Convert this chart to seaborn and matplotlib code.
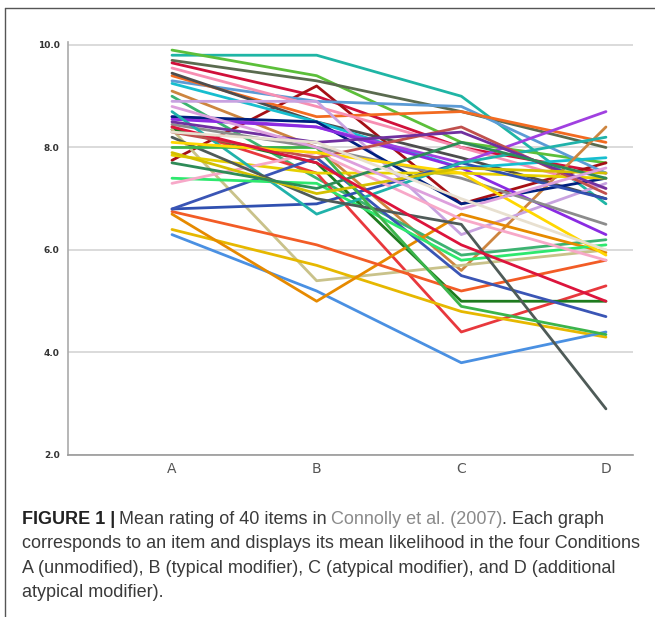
import pandas as pd
import matplotlib
matplotlib.use("Agg")
import matplotlib.pyplot as plt
import seaborn as sns
from matplotlib.lines import Line2D


# Conditions et valeurs (40 items)
conditions = ["A", "B", "C", "D"]

items = [
    [9.8, 9.8, 9.0, 6.9],
    [9.9, 9.4, 8.1, 7.7],
    [9.7, 9.3, 8.7, 8.0],
    [9.65, 9.0, 8.0, 7.5],
    [7.75, 9.2, 6.9, 7.7],
    [9.3, 8.9, 8.8, 7.5],
    [9.4, 8.6, 8.7, 8.1],
    [9.55, 8.8, 8.0, 7.2],
    [9.45, 8.5, 7.8, 7.0],
    [9.25, 8.5, 7.6, 7.8],
    [9.1, 8.0, 5.6, 8.4],
    [9.0, 7.4, 5.9, 6.2],
    [8.9, 8.9, 6.3, 7.3],
    [8.6, 8.4, 7.7, 8.7],
    [8.6, 8.5, 6.9, 7.4],
    [8.55, 8.4, 7.6, 6.3],
    [8.45, 8.0, 7.4, 6.5],
    [8.4, 7.5, 4.4, 5.3],
    [8.35, 7.7, 5.0, 5.0],
    [8.35, 5.4, 5.7, 6.0],
    [7.85, 7.5, 7.5, 7.4],
    [6.4, 5.7, 4.8, 4.3],
    [6.3, 5.2, 3.8, 4.4],
    [6.7, 5.0, 6.7, 5.95],
    [6.75, 6.1, 5.2, 5.8],
    [6.8, 6.9, 7.7, 7.0],
    [6.8, 7.8, 5.5, 4.7],
    [7.4, 7.3, 5.8, 6.1],
    [7.3, 7.9, 6.6, 5.8],
    [8.7, 6.7, 7.7, 8.2],
    [8.2, 7.0, 6.5, 2.9],
    [8.0, 8.0, 4.9, 4.35],
    [8.3, 7.8, 8.4, 7.1],
    [8.5, 8.1, 8.3, 7.2],
    [8.1, 7.9, 7.5, 5.9],
    [7.9, 7.1, 7.6, 7.5],
    [7.7, 7.2, 8.1, 7.4],
    [8.8, 8.0, 6.8, 7.6],
    [8.4, 7.7, 6.1, 5.0],
    [8.3, 8.1, 7.0, 6.0],
]

item_colors = [
    "#1fb5a5", "#5cbf3a", "#5a6b4f", "#d0103a", "#a50f15",
    "#5b9bd5", "#f26b21", "#f78fb3", "#4d4d4d", "#17becf",
    "#cd853f", "#3cb371", "#c8a2e0", "#a040e0", "#00207f",
    "#8a2be2", "#8c8c8c", "#e8383d", "#1e7b1e", "#c9c28a",
    "#e6d000", "#e6b800", "#4a90e2", "#e68a00", "#f25c26",
    "#3050b0", "#3a55b5", "#2ee86e", "#f7a8c8", "#20b2aa",
    "#4f5b58", "#3cb44b", "#c0504d", "#7030a0", "#ffd700",
    "#d4c000", "#2e8b57", "#dda0dd", "#dc143c", "#e8e0d0",
]

y_ticks = [2.0, 4.0, 6.0, 8.0, 10.0]

caption_lines = [
    "corresponds to an item and displays its mean likelihood in the four Conditions",
    "A (unmodified), B (typical modifier), C (atypical modifier), and D (additional",
    "atypical modifier).",
]

rows = []
for i, vals in enumerate(items):
    for cond, v in zip(conditions, vals):
        rows.append({"item": i, "condition": cond, "rating": v})
df = pd.DataFrame(rows)

sns.set_style("white")
plt.rcParams["font.family"] = ["DejaVu Sans"]

fig = plt.figure(figsize=(6.55, 6.17), dpi=100)
ax = fig.add_axes([68 / 655, 1 - 455 / 617, (633 - 68) / 655, (455 - 42.4) / 617])

sns.lineplot(
    data=df, x="condition", y="rating", hue="item",
    palette=item_colors, legend=False, sort=False,
    linewidth=2.0, ax=ax,
)

ax.set_xlim(-0.719, 3.187)
ax.set_ylim(2.0, 10.05)
ax.set_yticks(y_ticks)
ax.set_yticklabels([f"{t:.1f}" for t in y_ticks], fontsize=6.5,
                   color="#333333", fontweight="bold")
ax.set_xticks(range(len(conditions)))
ax.set_xticklabels(conditions, fontsize=10, color="#555555")
ax.tick_params(length=0, pad=6)
ax.tick_params(axis="x", pad=5)
ax.set_xlabel("")
ax.set_ylabel("")
ax.grid(axis="y", color="#d4d4d4", linewidth=1.2)
ax.set_axisbelow(True)
for side in ["top", "right"]:
    ax.spines[side].set_visible(False)
ax.spines["left"].set_color("#aaaaaa")
ax.spines["bottom"].set_color("#999999")
ax.spines["left"].set_linewidth(1.2)
ax.spines["bottom"].set_linewidth(1.2)

# Cadre de la figure (haut et gauche)
fig.add_artist(Line2D([5 / 655, 5 / 655], [0, 1 - 8 / 617],
                      transform=fig.transFigure, color="#555555", linewidth=1))
fig.add_artist(Line2D([5 / 655, 1], [1 - 8 / 617, 1 - 8 / 617],
                      transform=fig.transFigure, color="#555555", linewidth=1))

# Légende de la figure
cap_font = ["Liberation Sans", "DejaVu Sans"]
cap_size = 13
x0 = 22 / 655
y_first = 1 - 524 / 617
fig.canvas.draw()
renderer = fig.canvas.get_renderer()

t1 = fig.text(x0, y_first, "FIGURE 1 |", fontsize=cap_size, fontweight="bold",
              family=cap_font, color="#222222", va="baseline")
bb = t1.get_window_extent(renderer)
x1 = bb.x1 / fig.bbox.width + 4 / 655
t2 = fig.text(x1, y_first, "Mean rating of 40 items in", fontsize=cap_size,
              family=cap_font, color="#3a3a3a", va="baseline")
bb = t2.get_window_extent(renderer)
x2 = bb.x1 / fig.bbox.width + 4 / 655
t3 = fig.text(x2, y_first, "Connolly et al. (2007)", fontsize=cap_size,
              family=cap_font, color="#8a8a8a", va="baseline")
bb = t3.get_window_extent(renderer)
x3 = bb.x1 / fig.bbox.width
fig.text(x3, y_first, ". Each graph", fontsize=cap_size,
         family=cap_font, color="#3a3a3a", va="baseline")

for k, line in enumerate(caption_lines):
    fig.text(x0, 1 - (548.5 + 24.3 * k) / 617, line, fontsize=cap_size,
             family=cap_font, color="#3a3a3a", va="baseline")

fig.savefig("out.png", dpi=100)
